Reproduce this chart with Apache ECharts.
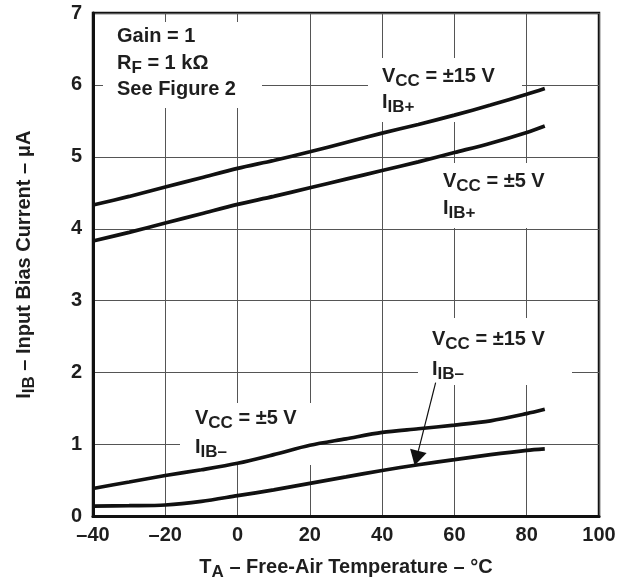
<!DOCTYPE html>
<html><head><meta charset="utf-8">
<script src="https://cdn.jsdelivr.net/npm/echarts@6/dist/echarts.min.js"></script>
<style>html,body{margin:0;padding:0;background:#fff}#c{width:632px;height:586px}</style>
</head><body><div id="c"></div>
<script>
// ---- data ----
const temps      = [-40, -30, -20, -10, 0, 10, 20, 30, 40, 50, 60, 70, 80, 85];
const ibPlus15   = [4.33, 4.45, 4.58, 4.71, 4.84, 4.95, 5.07, 5.20, 5.33, 5.45, 5.58, 5.72, 5.87, 5.95];
const ibPlus5    = [3.83, 3.95, 4.08, 4.21, 4.34, 4.45, 4.57, 4.69, 4.81, 4.93, 5.06, 5.19, 5.34, 5.43];
const ibMinus5   = [0.39, 0.48, 0.57, 0.65, 0.74, 0.86, 0.99, 1.08, 1.17, 1.22, 1.27, 1.33, 1.43, 1.49];
const ibMinus15  = [0.145, 0.15, 0.16, 0.21, 0.29, 0.37, 0.46, 0.55, 0.64, 0.72, 0.79, 0.86, 0.92, 0.94];
const xMin = -40, xMax = 100, xStep = 20;
const yMin = 0, yMax = 7, yStep = 1;
const arrowTail = [54.8, 1.86];
const arrowTip  = [49.0, 0.71];

const FF = '"Liberation Sans", Arial, Helvetica, sans-serif';
const INK = '#1e1e1e';
const pairs = arr => temps.map((t, i) => [t, arr[i]]);

const richEC = {
  t: { fontSize: 20, fontWeight: 'bold', fontFamily: FF, color: INK, lineHeight: 22 },
  s: { fontSize: 17, fontWeight: 'bold', fontFamily: FF, color: INK, lineHeight: 22, padding: [10, 0, 0, 0] }
};
const richZR = {
  t: { fontSize: 20, fontWeight: 'bold', fontFamily: FF, fill: INK, lineHeight: 22 },
  s: { fontSize: 17, fontWeight: 'bold', fontFamily: FF, fill: INK, lineHeight: 22, padding: [10, 0, 0, 0] }
};

function txt(x, y, text) {
  return { type: 'text', x: x, y: y, z: 5,
    style: { text: text, rich: richZR, align: 'left', verticalAlign: 'middle' } };
}
function box(x, y, w, h) {
  return { type: 'rect', z: 1, shape: { x: x, y: y, width: w, height: h },
    style: { fill: '#ffffff' }, silent: true };
}

const lineSeries = (arr, extra) => Object.assign({
  type: 'line', data: pairs(arr), smooth: 0.3, showSymbol: false, z: 3,
  lineStyle: { color: '#111', width: 3.7 }
}, extra || {});

const texts = [
  box(103, 22, 159, 86),
  box(368, 58, 154, 64),
  box(432, 163, 133, 65),
  box(180, 403, 140, 62),
  box(418, 318, 154, 67),
  txt(117, 36.5, '{t|Gain = 1}'),
  txt(117, 63, '{t|R}{s|F}{t| = 1 k\u03A9}'),
  txt(117, 89, '{t|See Figure 2}'),
  txt(382, 76, '{t|V}{s|CC}{t| = \u00B115 V}'),
  txt(382, 102, '{t|I}{s|IB+}'),
  txt(443, 181, '{t|V}{s|CC}{t| = \u00B15 V}'),
  txt(443, 208, '{t|I}{s|IB+}'),
  txt(195, 418, '{t|V}{s|CC}{t| = \u00B15 V}'),
  txt(195, 447, '{t|I}{s|IB\u2013}'),
  txt(432, 339.5, '{t|V}{s|CC}{t| = \u00B115 V}'),
  txt(432, 369.5, '{t|I}{s|IB\u2013}')
];

const chart = echarts.init(document.getElementById('c'), null, { renderer: 'canvas' });
chart.setOption({
  animation: false,
  backgroundColor: '#fff',
  grid: { left: 93, right: 33, top: 13, bottom: 67, show: true, borderColor: '#111', borderWidth: 2.5 },
  xAxis: {
    type: 'value', min: xMin, max: xMax, interval: xStep,
    axisLine: { show: true, onZero: false, lineStyle: { color: '#111', width: 3 } },
    axisTick: { show: false },
    axisLabel: { fontSize: 20, fontWeight: 'bold', fontFamily: FF, color: INK, margin: 9,
      formatter: v => String(v).replace('-', '\u2013') },
    splitLine: { show: true, lineStyle: { color: '#555', width: 1 } },
    name: '{t|T}{s|A}{t| \u2013 Free-Air Temperature \u2013 \u00B0C}',
    nameLocation: 'middle', nameGap: 40,
    nameTextStyle: { rich: richEC }
  },
  yAxis: {
    type: 'value', min: yMin, max: yMax, interval: yStep,
    axisLine: { show: true, onZero: false, lineStyle: { color: '#111', width: 3 } },
    axisTick: { show: false },
    axisLabel: { fontSize: 20, fontWeight: 'bold', fontFamily: FF, color: INK, margin: 11 },
    splitLine: { show: true, lineStyle: { color: '#555', width: 1 } },
    name: '{t|I}{s|IB}{t| \u2013 Input Bias Current \u2013 \u03BCA}',
    nameLocation: 'middle', nameGap: 58, nameRotate: 90,
    nameTextStyle: { rich: richEC }
  },
  series: [
    lineSeries(ibPlus15),
    lineSeries(ibPlus5),
    lineSeries(ibMinus5),
    lineSeries(ibMinus15)
  ],
  graphic: { elements: texts }
});

// arrow from the (-15 V) label to its curve, placed via the chart's own scales
const pTail = chart.convertToPixel({ gridIndex: 0 }, arrowTail);
const pTip = chart.convertToPixel({ gridIndex: 0 }, arrowTip);
const dx = pTip[0] - pTail[0], dy = pTip[1] - pTail[1];
const len = Math.hypot(dx, dy), ux = dx / len, uy = dy / len;
const headLen = 15, headHalf = 8.5;
const bx = pTip[0] - ux * headLen, by = pTip[1] - uy * headLen;
chart.setOption({ graphic: { elements: texts.concat([
  { type: 'line', z: 4, shape: { x1: pTail[0], y1: pTail[1], x2: bx, y2: by },
    style: { stroke: '#111', lineWidth: 1.2 } },
  { type: 'polygon', z: 4, shape: { points: [
      [pTip[0], pTip[1]],
      [bx - uy * headHalf, by + ux * headHalf],
      [bx + uy * headHalf, by - ux * headHalf]
    ] }, style: { fill: '#111' } }
]) } });
</script></body></html>
